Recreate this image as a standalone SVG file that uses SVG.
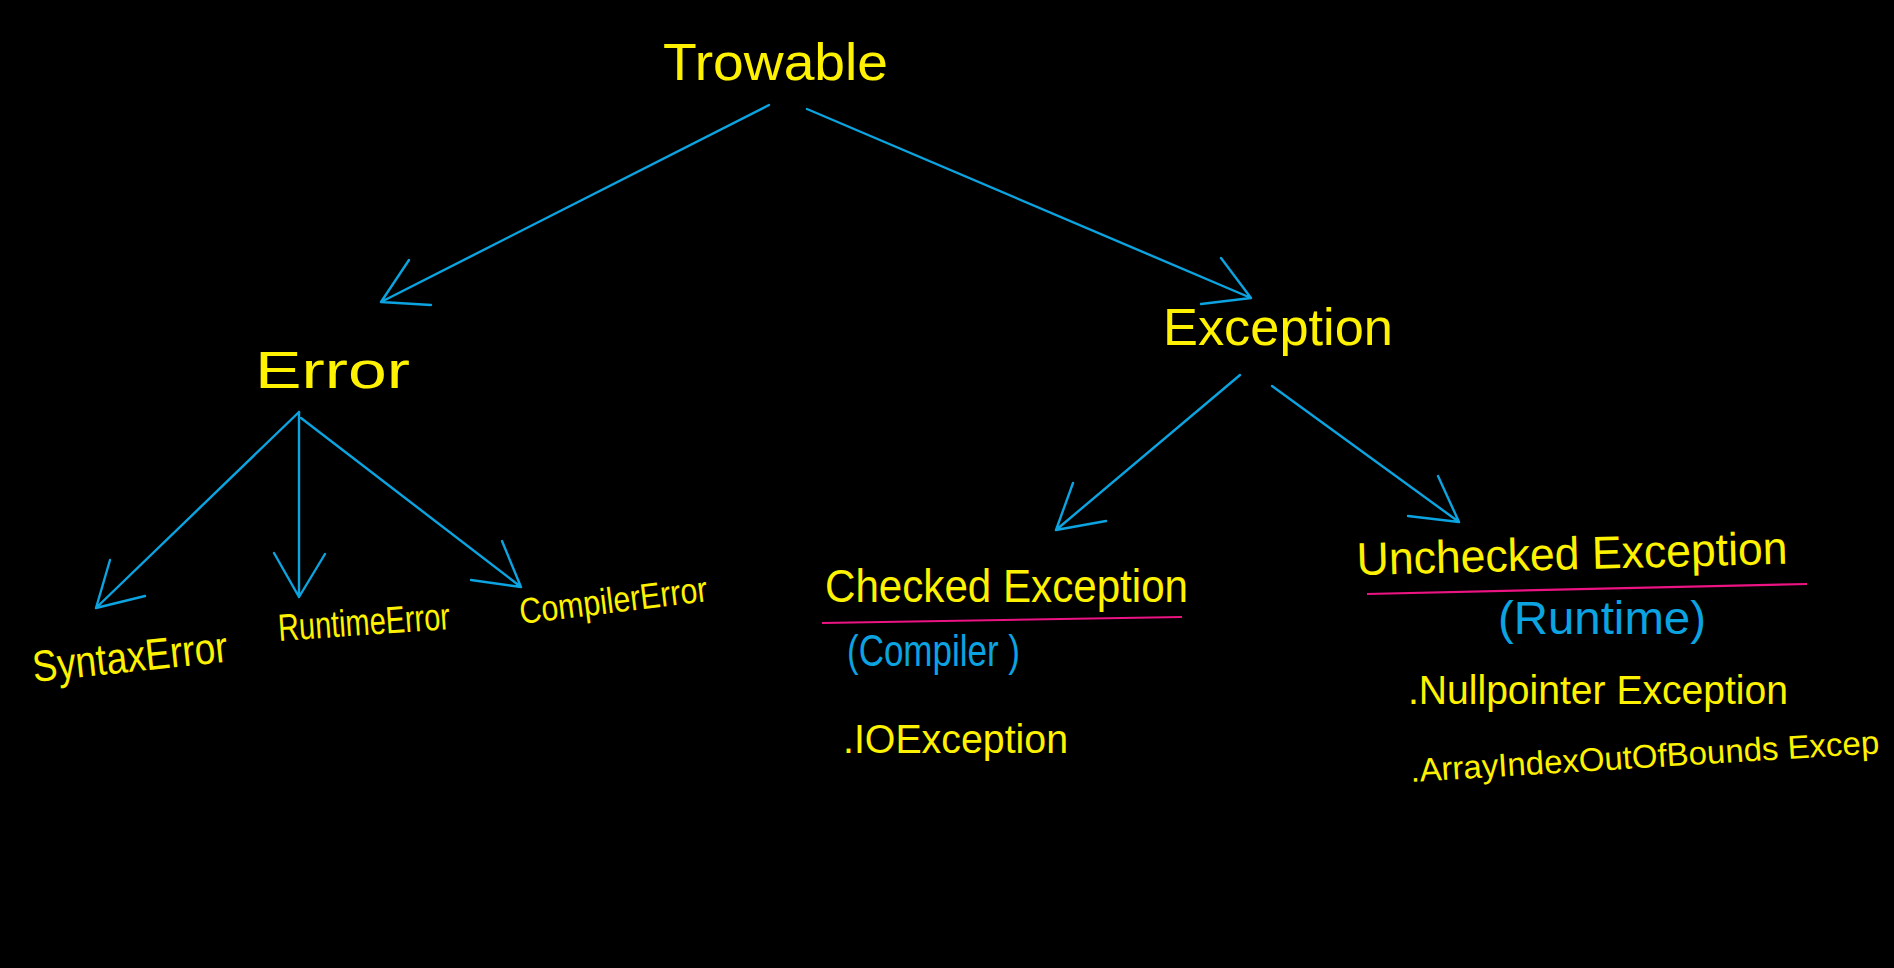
<svg xmlns="http://www.w3.org/2000/svg" width="1894" height="968" viewBox="0 0 1894 968">
<style>
.bg{fill:#000}
.edge{stroke:#0ba3e0;stroke-width:2.4;fill:none;stroke-linecap:round;stroke-linejoin:round}
.rule{stroke:#ec1383;stroke-width:2.2;fill:none}
.y{fill:#fff200;font-family:"Liberation Sans","DejaVu Sans",sans-serif}
.b{fill:#0ba3e0;font-family:"Liberation Sans","DejaVu Sans",sans-serif}
</style>
<rect class="bg" x="0" y="0" width="1894" height="968"/>
<g id="connectors">
  <path class="edge" d="M769,105 L381,302 M409,260 L381,302 L431,305"/>
  <path class="edge" d="M807,109 L1251,298 M1221,258 L1251,298 L1201,304"/>
  <path class="edge" d="M299,412 L96,608 M110,560 L96,608 L145,596"/>
  <path class="edge" d="M299,412 L299,597 M274,553 L299,597 L325,554"/>
  <path class="edge" d="M301,418 L521,587 M502,541 L521,587 L471,580"/>
  <path class="edge" d="M1240,375 L1056,530 M1073,483 L1056,530 L1106,521"/>
  <path class="edge" d="M1272,386 L1459,522 M1438,476 L1459,522 L1408,516"/>
</g>
<g id="throwable"><text class="y" x="663" y="80" font-size="52" textLength="225" lengthAdjust="spacingAndGlyphs">Trowable</text></g>
<g id="error"><text class="y" x="255" y="388" font-size="52" textLength="155" lengthAdjust="spacingAndGlyphs">Error</text></g>
<g id="exception"><text class="y" x="1163" y="345" font-size="52" textLength="230" lengthAdjust="spacingAndGlyphs">Exception</text></g>
<g id="syntax-error"><text class="y" x="34" y="682" font-size="44" textLength="196" lengthAdjust="spacingAndGlyphs" transform="rotate(-6 34 682)">SyntaxError</text></g>
<g id="runtime-error"><text class="y" x="279" y="641" font-size="38" textLength="172" lengthAdjust="spacingAndGlyphs" transform="rotate(-4 279 641)">RuntimeError</text></g>
<g id="compiler-error"><text class="y" x="521" y="624" font-size="36" textLength="189" lengthAdjust="spacingAndGlyphs" transform="rotate(-7 521 624)">CompilerError</text></g>
<g id="checked-exception">
  <text class="y" x="825" y="602" font-size="46" textLength="363" lengthAdjust="spacingAndGlyphs">Checked Exception</text>
  <line class="rule" x1="822" y1="623" x2="1182" y2="617"/>
  <text class="b" x="847" y="666" font-size="44" textLength="173" lengthAdjust="spacingAndGlyphs">(Compiler )</text>
  <text class="y" x="843" y="753" font-size="40" textLength="225" lengthAdjust="spacingAndGlyphs">.IOException</text>
</g>
<g id="unchecked-exception">
  <text class="y" x="1357" y="575" font-size="46" textLength="431" lengthAdjust="spacingAndGlyphs" transform="rotate(-1.5 1357 575)">Unchecked Exception</text>
  <line class="rule" x1="1367" y1="594" x2="1807" y2="584"/>
  <text class="b" x="1498" y="634" font-size="46" textLength="208" lengthAdjust="spacingAndGlyphs">(Runtime)</text>
  <text class="y" x="1408" y="704" font-size="40" textLength="380" lengthAdjust="spacingAndGlyphs">.Nullpointer Exception</text>
  <text class="y" x="1411" y="782" font-size="33" transform="rotate(-3.5 1411 782)">.ArrayIndexOutOfBounds Excep</text>
</g>
</svg>
